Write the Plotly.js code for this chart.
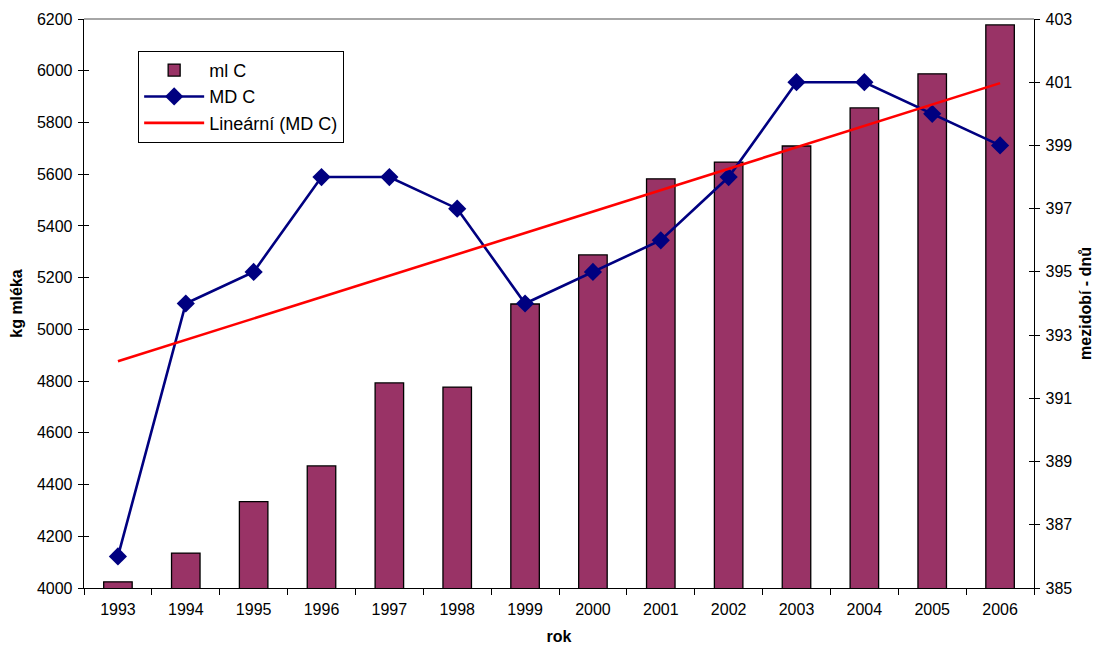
<!DOCTYPE html>
<html>
<head>
<meta charset="utf-8">
<script src="https://cdn.plot.ly/plotly-3.0.1.min.js"></script>
<style>html,body{margin:0;padding:0;background:#fff;}#chart{width:1100px;height:645px;}</style>
</head>
<body>
<div id="chart"></div>
<script>
const years = ['1993','1994','1995','1996','1997','1998','1999','2000','2001','2002','2003','2004','2005','2006'];
const mlC = [4024, 4135, 4334, 4472, 4793, 4777, 5098, 5288, 5582, 5647, 5709, 5856, 5988, 6177];
const mdC = [386, 394, 395, 398, 398, 397, 394, 395, 396, 398, 401, 401, 400, 399];
const leftTicks = [4000, 4200, 4400, 4600, 4800, 5000, 5200, 5400, 5600, 5800, 6000, 6200];
const rightTicks = [385, 387, 389, 391, 393, 395, 397, 399, 401, 403];

// least-squares linear trend of MD C (Excel "Lineární")
const n = mdC.length;
const xs = mdC.map((_, i) => i + 1);
const mx = xs.reduce((a, b) => a + b, 0) / n;
const my = mdC.reduce((a, b) => a + b, 0) / n;
let sxy = 0, sxx = 0;
for (let i = 0; i < n; i++) { sxy += (xs[i] - mx) * (mdC[i] - my); sxx += (xs[i] - mx) ** 2; }
const slope = sxy / sxx, icpt = my - slope * mx;
const trend = xs.map(x => icpt + slope * x);

const F = 'Arial, "Liberation Sans", sans-serif';
const data = [
  {type: 'bar', name: 'ml C', x: years, y: mlC, yaxis: 'y',
   marker: {color: '#993366', line: {color: '#000000', width: 1.3}}},
  {type: 'scatter', mode: 'lines+markers', name: 'MD C', x: years, y: mdC, yaxis: 'y2',
   line: {color: '#000080', width: 2.6}, marker: {symbol: 'diamond', size: 14, color: '#000080'}},
  {type: 'scatter', mode: 'lines', name: 'Lineární (MD C)', x: years, y: trend, yaxis: 'y2',
   line: {color: '#FF0000', width: 2.6}},
  {type: 'scatter', x: [years[0]], y: [4000], yaxis: 'y3', showlegend: false,
   hoverinfo: 'skip', mode: 'markers', marker: {opacity: 0, size: 1}},
  {type: 'scatter', x: [years[0]], y: [385], yaxis: 'y4', showlegend: false,
   hoverinfo: 'skip', mode: 'markers', marker: {opacity: 0, size: 1}}
];
const layout = {
  width: 1100, height: 645,
  margin: {l: 84, r: 66, t: 19, b: 57},
  paper_bgcolor: '#ffffff', plot_bgcolor: '#ffffff',
  font: {family: F, size: 16, color: '#000000'},
  bargap: 0.58,
  showlegend: true,
  legend: {x: 0.057, y: 0.944, xanchor: 'left', yanchor: 'top',
    bordercolor: '#000000', borderwidth: 1, bgcolor: '#ffffff',
    font: {family: F, size: 18, color: '#000000'}, tracegroupgap: 0,
    itemwidth: 60, traceorder: 'normal'},
  xaxis: {type: 'category', range: [-0.5, 13.5], autorange: false, automargin: false,
    showline: true, linecolor: '#000000', linewidth: 1.3,
    ticks: 'outside', ticklen: 6, tickcolor: '#000000', tickson: 'boundaries',
    ticklabelstandoff: 6,
    showgrid: false, zeroline: false, tickfont: {family: F, size: 16},
    title: {text: 'rok', font: {family: F, size: 16, weight: 'bold'}, standoff: 14}},
  yaxis: {range: [4000, 6200], autorange: false, automargin: false, tickvals: leftTicks,
    ticktext: leftTicks.map(String),
    showline: true, linecolor: '#000000', linewidth: 1.3, ticks: 'outside', ticklen: 5,
    tickcolor: '#000000', showgrid: false, zeroline: false, tickfont: {family: F, size: 16},
    ticklabelstandoff: 2,
    title: {text: 'kg mléka', font: {family: F, size: 16, weight: 'bold'}, standoff: 10}},
  yaxis2: {overlaying: 'y', side: 'right', range: [385, 403], autorange: false, automargin: false,
    tickvals: rightTicks,
    ticktext: rightTicks.map(String), showline: true, linecolor: '#000000', linewidth: 1.3,
    ticks: 'outside', ticklen: 5, tickcolor: '#000000', showgrid: false, zeroline: false,
    tickfont: {family: F, size: 16}, ticklabelstandoff: 2,
    title: {text: 'mezidobí - dnů', font: {family: F, size: 16, weight: 'bold'}, standoff: 8}},
  yaxis3: {overlaying: 'y', side: 'left', range: [4000, 6200], autorange: false, automargin: false,
    tickvals: leftTicks,
    showticklabels: false, ticks: 'inside', ticklen: 5, tickcolor: '#000000',
    showline: false, showgrid: false, zeroline: false},
  yaxis4: {overlaying: 'y', side: 'right', range: [385, 403], autorange: false, automargin: false,
    tickvals: rightTicks,
    showticklabels: false, ticks: 'inside', ticklen: 5, tickcolor: '#000000',
    showline: false, showgrid: false, zeroline: false},
  shapes: [{type: 'line', xref: 'paper', yref: 'paper', x0: 0, x1: 1, y0: 1, y1: 1,
    line: {color: '#888888', width: 1.3}}]
};
Plotly.newPlot('chart', data, layout, {staticPlot: true});
</script>
</body>
</html>
